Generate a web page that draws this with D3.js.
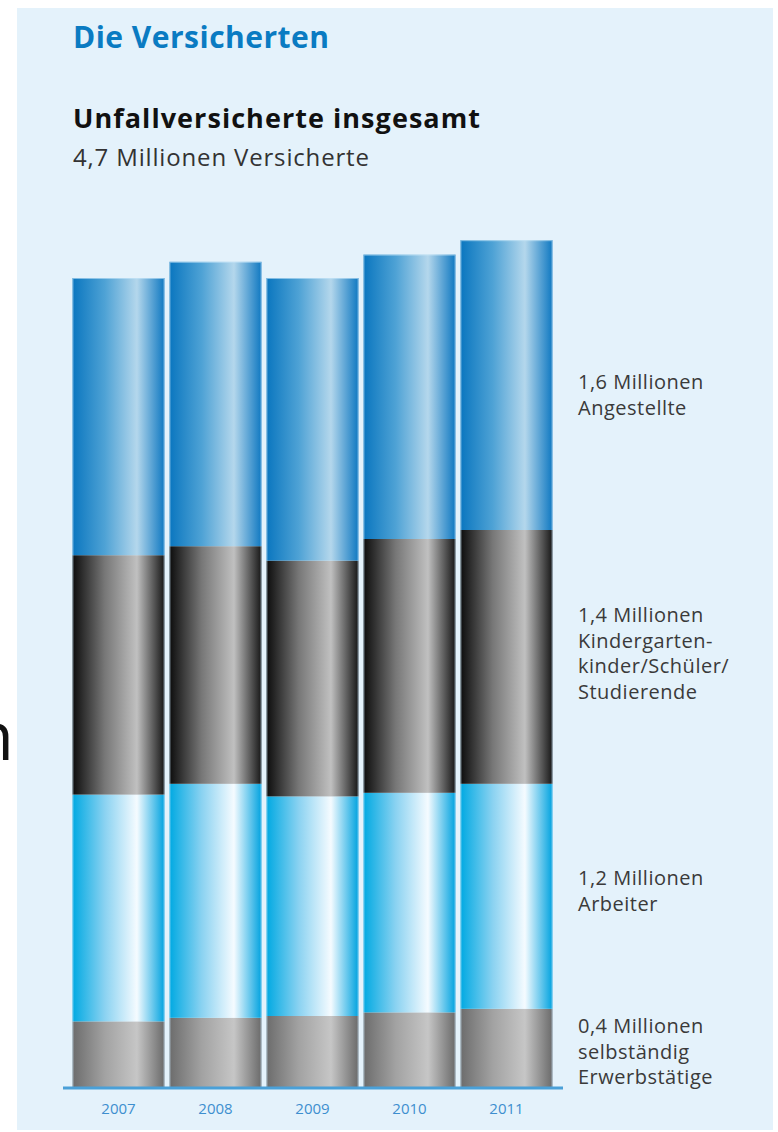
<!DOCTYPE html>
<html><head><meta charset="utf-8">
<script src="https://cdn.jsdelivr.net/npm/d3@7"></script>
<style>
html,body{margin:0;padding:0;background:#fff;}
svg{display:block;}
text{font-family:"Open Sans","Noto Sans",sans-serif;}
</style></head>
<body>
<svg id="chart" width="778" height="1132"></svg>
<script>
// ---- data (millions) ----
const years = ["2007","2008","2009","2010","2011"];
const selbstaendig = [0.37, 0.39, 0.40, 0.42, 0.44];
const arbeiter     = [1.26, 1.30, 1.22, 1.22, 1.25];
const kinder       = [1.33, 1.32, 1.31, 1.41, 1.41];
const angestellte  = [1.54, 1.58, 1.57, 1.58, 1.61];
const seriesKeys = ["selbstaendig","arbeiter","kinder","angestellte"];
const labels = [
  {key:"angestellte", lines:["1,6 Millionen","Angestellte"], y:389},
  {key:"kinder", lines:["1,4 Millionen","Kindergarten-","kinder/Schüler/","Studierende"], y:622},
  {key:"arbeiter", lines:["1,2 Millionen","Arbeiter"], y:885},
  {key:"selbstaendig", lines:["0,4 Millionen","selbständig","Erwerbstätige"], y:1033}
];

const rows = years.map((y,i)=>({year:y, selbstaendig:selbstaendig[i], arbeiter:arbeiter[i], kinder:kinder[i], angestellte:angestellte[i]}));

const svg = d3.select("#chart");
// background panel
svg.append("rect").attr("x",17).attr("y",8).attr("width",756).attr("height",1122).attr("fill","#e4f2fb");
// stray glyph at left edge (as in the source)
svg.append("text").attr("x",14).attr("y",760).attr("text-anchor","end")
  .attr("font-size",68).attr("fill","#111").text("n");

const x = d3.scaleBand().domain(years).range([70,555]).paddingInner(0.05).paddingOuter(0.025);
const y = d3.scaleLinear().domain([0,5]).range([1088, 1088-900]);

// gradients
const defs = svg.append("defs");
const grads = {
  angestellte: [[0,"#0a76bf"],[0.35,"#4ea2d5"],[0.7,"#b4d7ec"],[1,"#0f78c1"]],
  kinder: [[0,"#0c0c0c"],[0.35,"#777"],[0.7,"#c0c0c0"],[1,"#161616"]],
  arbeiter: [[0,"#00a9e2"],[0.35,"#8ad2f1"],[0.7,"#f5fbff"],[1,"#00a2df"]],
  selbstaendig: [[0,"#6c6c6c"],[0.35,"#a2a2a2"],[0.7,"#c6c6c6"],[1,"#6a6a6a"]]
};
Object.entries(grads).forEach(([k,stops])=>{
  const g = defs.append("linearGradient").attr("id","g-"+k).attr("x1","0").attr("x2","1").attr("y1","0").attr("y2","0");
  stops.forEach(s=>g.append("stop").attr("offset",s[0]).attr("stop-color",s[1]));
});

const stack = d3.stack().keys(seriesKeys)(rows);
svg.append("g").selectAll("g").data(stack).join("g")
  .attr("fill",d=>"url(#g-"+d.key+")")
  .selectAll("rect").data(d=>d).join("rect")
  .attr("x",d=>x(d.data.year))
  .attr("width",x.bandwidth())
  .attr("y",d=>y(d[1]))
  .attr("height",d=>y(d[0])-y(d[1]));

const total = d=>d.selbstaendig+d.arbeiter+d.kinder+d.angestellte;
// thin light outlines of each bar
svg.append("g").selectAll("rect").data(rows).join("rect")
  .attr("x",d=>x(d.year)+0.5).attr("width",x.bandwidth()-1)
  .attr("y",d=>y(total(d))+0.5)
  .attr("height",d=>y(0)-y(total(d))-1)
  .attr("fill","none").attr("stroke","rgba(200,230,248,0.6)").attr("stroke-width",1);

// baseline axis
const axis = d3.axisBottom(x).tickSize(0).tickPadding(15);
const ag = svg.append("g").attr("transform","translate(0,1088)").call(axis);
ag.select(".domain").remove();
ag.append("line").attr("x1",63).attr("x2",563).attr("y1",0).attr("y2",0)
  .attr("stroke","#4aa0d8").attr("stroke-width",3);
ag.selectAll(".tick text").attr("font-size",15).attr("fill","#3d8fcf")
  .attr("font-family","'Open Sans',sans-serif");

// titles
svg.append("text").attr("x",73).attr("y",48).attr("font-size",30).attr("font-weight","bold")
  .attr("fill","#0a7bc2").attr("textLength",256).attr("lengthAdjust","spacing").text("Die Versicherten");
svg.append("text").attr("x",73).attr("y",128).attr("font-size",27).attr("font-weight","bold")
  .attr("fill","#111").attr("textLength",407).attr("lengthAdjust","spacing").text("Unfallversicherte insgesamt");
svg.append("text").attr("x",73).attr("y",166).attr("font-size",24)
  .attr("fill","#333").attr("textLength",296).attr("lengthAdjust","spacing").text("4,7 Millionen Versicherte");

// right labels
labels.forEach(l=>{
  const t = svg.append("text").attr("x",578).attr("y",l.y).attr("font-size",20).attr("fill","#3a3a3a")
    .attr("letter-spacing",0.5);
  l.lines.forEach((ln,i)=>t.append("tspan").attr("x",578).attr("dy",i===0?0:25.5).text(ln));
});
</script>
</body></html>
